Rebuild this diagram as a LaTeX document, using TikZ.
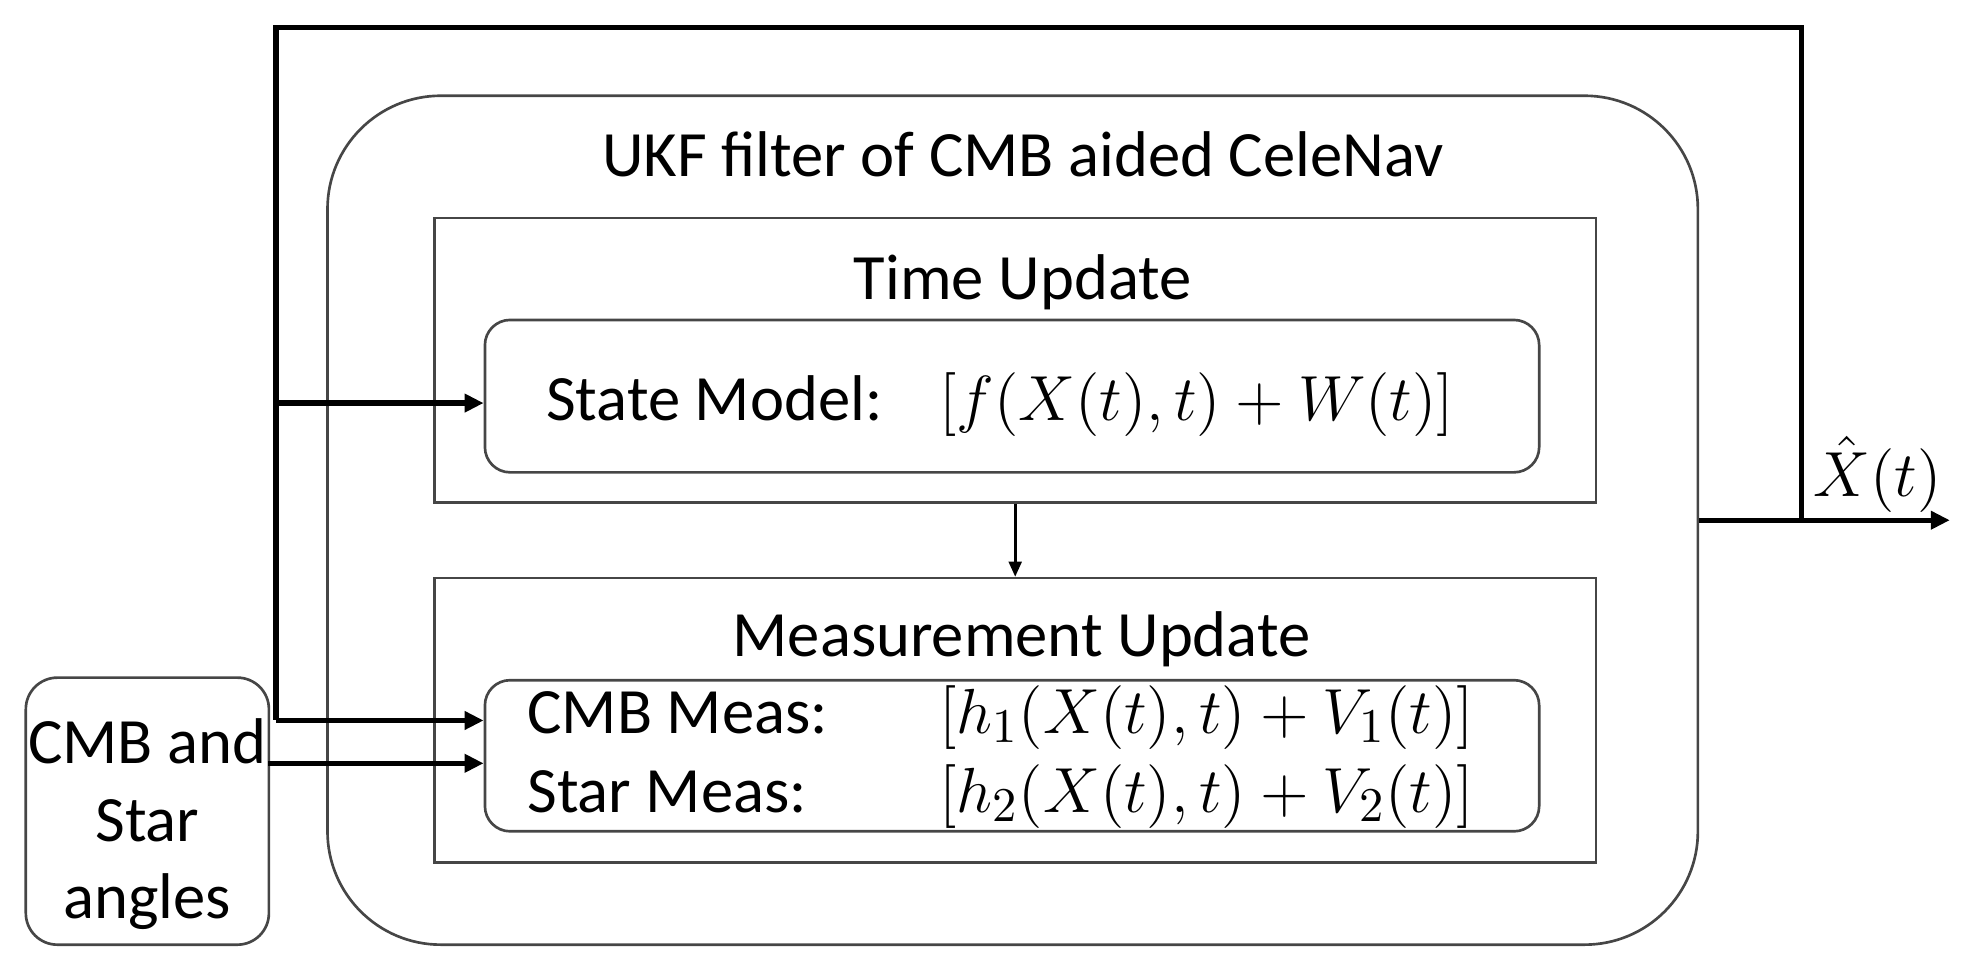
\documentclass[tikz,border=0pt]{standalone}
\usepackage{fontspec}
\setmainfont{Carlito}
\usetikzlibrary{arrows.meta}
\begin{document}
\begin{tikzpicture}[x=0.1mm,y=-0.1mm,
  txt/.style={font=\fontsize{14.6}{17}\selectfont, inner sep=0pt},
  mth/.style={font=\fontsize{15.2}{17}\selectfont, inner sep=0pt},
  box/.style={draw=gray!55!black, line width=0.6pt, inner sep=0pt},
  wire/.style={line width=1.2pt},
  conn/.style={line width=1.2pt, -{Triangle[length=1.5mm,width=1.4mm]}},
  thinconn/.style={line width=0.7pt, -{Triangle[length=1.2mm,width=1.0mm]}}]
\useasboundingbox (0,0) rectangle (1568,778);

% boxes
\node[box, rounded corners=9mm, minimum width=108.8mm, minimum height=67.4mm] (ukf) at (804,413) {};
\node[box, minimum width=92.2mm, minimum height=22.6mm] (time) at (806,286) {};
\node[box, rounded corners=2mm, minimum width=83.7mm, minimum height=12.1mm] (state) at (803.5,314.5) {};
\node[box, minimum width=92.2mm, minimum height=22.6mm] (meas) at (806,572) {};
\node[box, rounded corners=2mm, minimum width=83.7mm, minimum height=12.0mm] (measin) at (803.5,600) {};
\node[box, rounded corners=2.5mm, minimum width=19.3mm, minimum height=21.2mm] (cmb) at (117,644) {};

% texts
\node[txt, anchor=base] (ttl) at (812,140) {UKF filter of CMB aided CeleNav};
\node[txt, anchor=base] (tu) at (812,238) {Time Update};
\node[txt, anchor=base] (mu) at (811,521) {Measurement Update};
\node[txt, anchor=base west] (sm) at (433,334) {State Model:};
\node[mth, anchor=base west] (smf) at (745,334) {$[f(X(t),t)+W(t)]$};
\node[txt, anchor=base west] (cm) at (418,582) {CMB Meas:};
\node[mth, anchor=base west] (cmf) at (745,582) {$[h_1(X(t),t)+V_1(t)]$};
\node[txt, anchor=base west] (st) at (418,645) {Star Meas:};
\node[mth, anchor=base west] (stf) at (745,645) {$[h_2(X(t),t)+V_2(t)]$};
\node[txt, anchor=base] (c1t) at (117,606) {CMB and};
\node[txt, anchor=base] (c2t) at (117,668) {Star};
\node[txt, anchor=base] (c3t) at (117,729) {angles};
\node[mth, anchor=base west] (xh) at (1439,394) {$\hat{X}(t)$};

% connectors
\coordinate (jn) at (1430,413);
\coordinate (tr) at (1430,22);
\coordinate (tl) at (219,22);
\coordinate (bl) at (219,572);
\coordinate (sj) at (219,320);
\coordinate (cj) at (213,606);
\coordinate (outend) at (1548,413);

\draw[conn] (ukf.east) -- (outend);
\draw[wire] (jn) -- (tr) -- (tl) -- (bl);
\draw[conn] (bl) -- (measin.west |- bl);
\draw[conn] (sj) -- (state.west |- sj);
\draw[conn] (cj) -- (measin.west |- cj);
\draw[thinconn] (time.south) -- (meas.north);
\end{tikzpicture}
\end{document}
